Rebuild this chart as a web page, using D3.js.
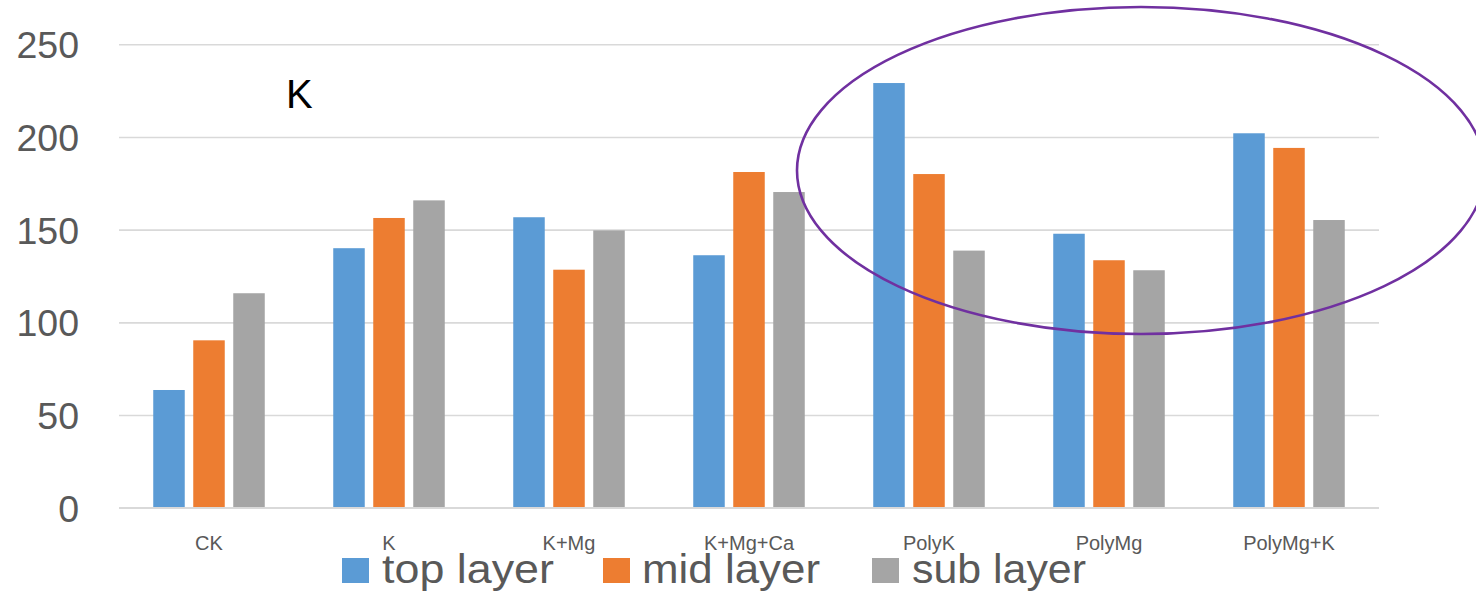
<!DOCTYPE html>
<html>
<head>
<meta charset="utf-8">
<script src="https://cdn.jsdelivr.net/npm/d3@7"></script>
<style>
  html, body { margin: 0; padding: 0; background: #ffffff; }
  svg { display: block; }
  text { font-family: "Liberation Sans", Arial, sans-serif; }
</style>
</head>
<body>
<svg id="chart" width="1476" height="595"></svg>
<script>
// Treatments along the x axis
const categories = ["CK", "K", "K+Mg", "K+Mg+Ca", "PolyK", "PolyMg", "PolyMg+K"];
// Soil layers (one bar each per treatment)
const seriesNames = ["top layer", "mid layer", "sub layer"];
// K content per layer, in treatment order
const topLayer = [63.5, 140, 156.7, 136.2, 229.1, 147.8, 202];
const midLayer = [90.3, 156.3, 128.4, 181.1, 180, 133.5, 194.1];
const subLayer = [115.7, 165.8, 149.6, 170.3, 138.7, 128.1, 155.2];
// Y axis ticks
const yTicks = [0, 50, 100, 150, 200, 250];

const colors = ["#5B9BD5", "#ED7D31", "#A5A5A5"];
const seriesValues = [topLayer, midLayer, subLayer];

const svg = d3.select("#chart");

const plot = { left: 119, right: 1379, top: 44.3, bottom: 507.7 };

const y = d3.scaleLinear().domain([0, 250]).range([plot.bottom, plot.top]);

const x0 = d3.scaleBand()
  .domain(categories)
  .range([plot.left, plot.right])
  .paddingInner(0)
  .paddingOuter(0);

const x1 = d3.scaleBand()
  .domain(seriesNames)
  .range([0, x0.bandwidth()])
  .paddingInner(0.2125)
  .paddingOuter(0.856);

const color = d3.scaleOrdinal().domain(seriesNames).range(colors);

// Horizontal gridlines
const yAxis = d3.axisLeft(y)
  .tickValues(yTicks)
  .tickSize(-(plot.right - plot.left))
  .tickPadding(40)
  .tickFormat(d3.format("d"));

const gy = svg.append("g")
  .attr("transform", `translate(${plot.left},0)`)
  .call(yAxis);
gy.select(".domain").remove();
gy.selectAll(".tick line")
  .attr("stroke", "#d9d9d9")
  .attr("stroke-width", 1.6);
gy.selectAll(".tick text")
  .attr("fill", "#595959")
  .attr("font-size", 37.5)
  .attr("dy", "0.36em");

// Bars
const rows = categories.map((c, i) => ({
  category: c,
  values: seriesNames.map((s, j) => ({ series: s, value: seriesValues[j][i] }))
}));

const groups = svg.append("g")
  .selectAll("g")
  .data(rows)
  .join("g")
  .attr("transform", d => `translate(${x0(d.category)},0)`);

groups.selectAll("rect")
  .data(d => d.values)
  .join("rect")
  .attr("x", d => x1(d.series))
  .attr("width", x1.bandwidth())
  .attr("y", d => y(d.value))
  .attr("height", d => y(0) - y(d.value))
  .attr("fill", d => color(d.series));

// Baseline redrawn over bar bottoms
svg.append("line")
  .attr("x1", plot.left).attr("x2", plot.right)
  .attr("y1", y(0)).attr("y2", y(0))
  .attr("stroke", "#d9d9d9")
  .attr("stroke-width", 1.6);

// Category labels
const xAxis = d3.axisBottom(x0).tickSize(0).tickPadding(0);
const gx = svg.append("g")
  .attr("transform", `translate(0,${y(0)})`)
  .call(xAxis);
gx.select(".domain").remove();
gx.selectAll(".tick text")
  .attr("fill", "#595959")
  .attr("font-size", 20)
  .attr("y", 42)
  .attr("dy", 0);

// Panel label
svg.append("text")
  .attr("x", 286)
  .attr("y", 108)
  .attr("font-size", 40)
  .attr("fill", "#000000")
  .text("K");

// Legend
const legendItems = [
  { name: seriesNames[0], sx: 342, tx: 382, tw: 172 },
  { name: seriesNames[1], sx: 603, tx: 642, tw: 178 },
  { name: seriesNames[2], sx: 872, tx: 912, tw: 174 }
];
const legend = svg.append("g")
  .selectAll("g")
  .data(legendItems)
  .join("g");
legend.append("rect")
  .attr("x", d => d.sx)
  .attr("y", 558)
  .attr("width", 27)
  .attr("height", 25)
  .attr("fill", d => color(d.name));
legend.append("text")
  .attr("x", d => d.tx)
  .attr("y", 583)
  .attr("font-size", 40)
  .attr("fill", "#595959")
  .attr("textLength", d => d.tw)
  .attr("lengthAdjust", "spacingAndGlyphs")
  .text(d => d.name);

// Highlight ring around the Poly treatments
svg.append("ellipse")
  .attr("cx", 1141)
  .attr("cy", 170.5)
  .attr("rx", 344)
  .attr("ry", 163.5)
  .attr("fill", "none")
  .attr("stroke", "#7030A0")
  .attr("stroke-width", 2.6);
</script>
</body>
</html>
